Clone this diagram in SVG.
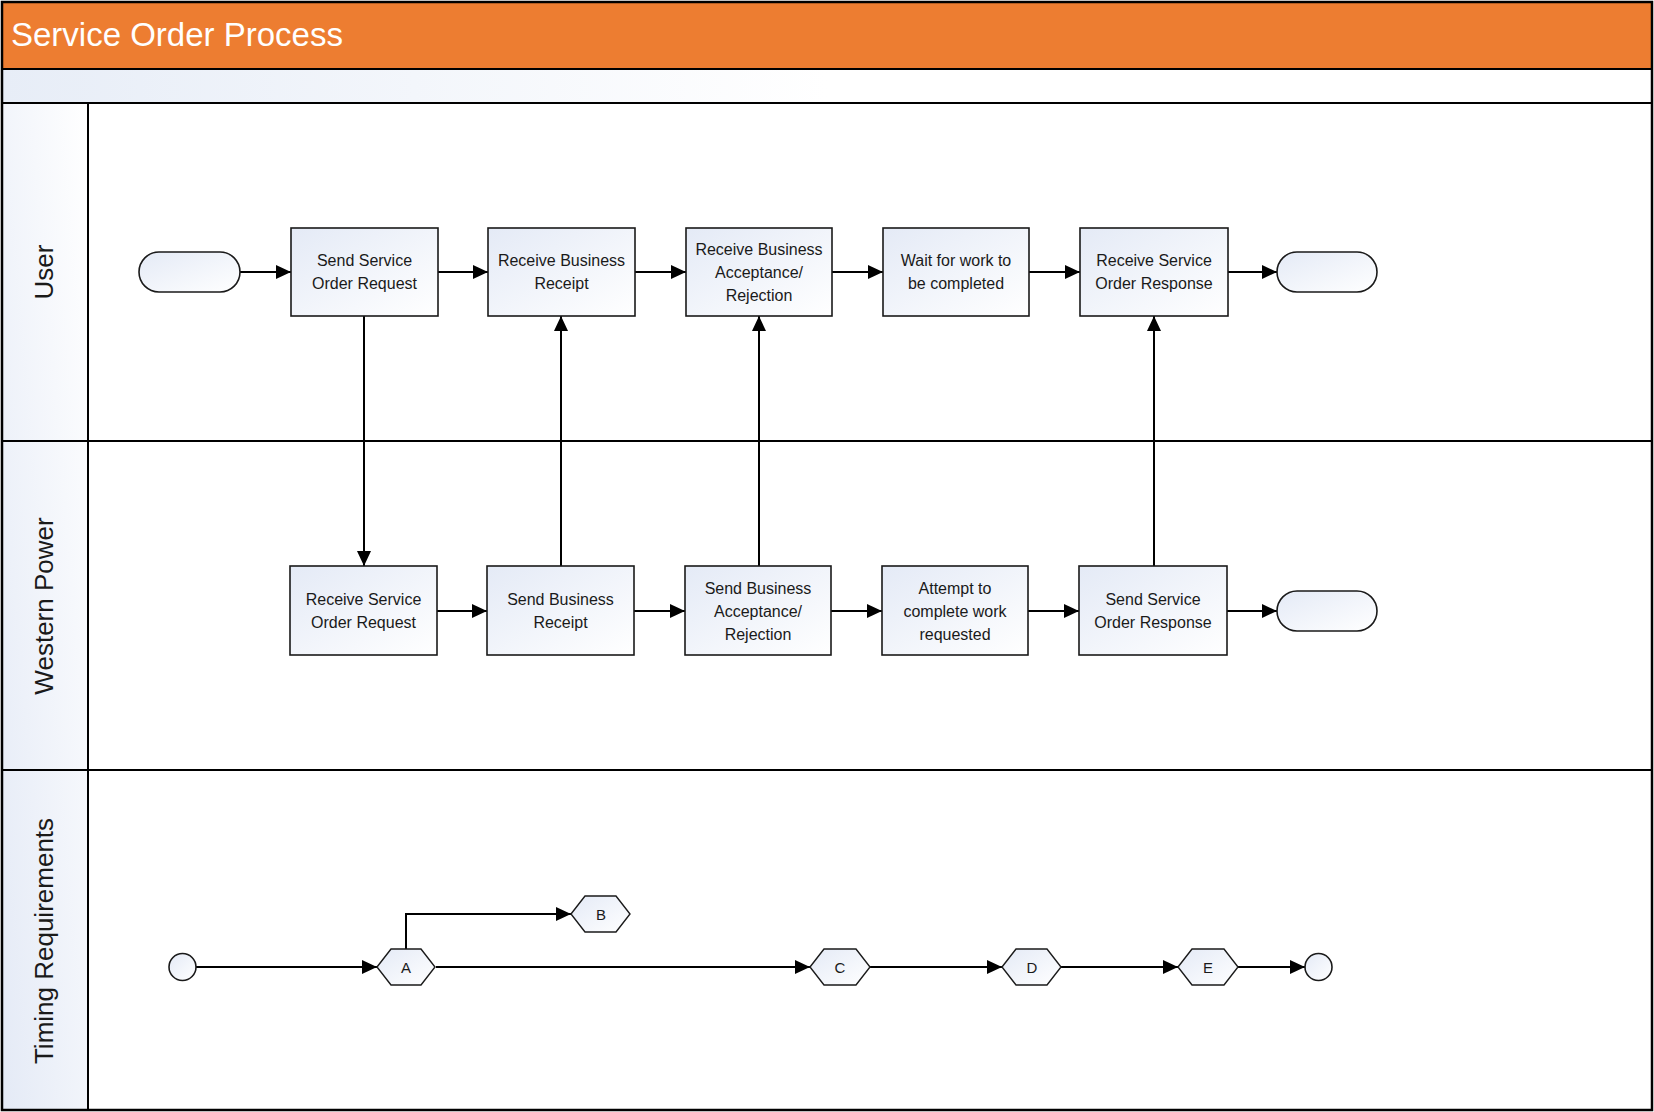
<svg xmlns="http://www.w3.org/2000/svg" width="1654" height="1112" viewBox="0 0 1654 1112">
<defs>
<linearGradient id="gBox" x1="0" y1="0" x2="1" y2="1">
<stop offset="0" stop-color="#e4eaf6"/>
<stop offset="1" stop-color="#ffffff"/>
</linearGradient>
<linearGradient id="gLane" x1="0" y1="1" x2="1" y2="0">
<stop offset="0" stop-color="#e4eaf6"/>
<stop offset="1" stop-color="#ffffff"/>
</linearGradient>
<linearGradient id="gBand" x1="0" y1="0" x2="1" y2="0">
<stop offset="0" stop-color="#e7edf7"/>
<stop offset="0.5" stop-color="#ffffff"/>
<stop offset="1" stop-color="#ffffff"/>
</linearGradient>
<marker id="arr" viewBox="0 0 15 14" refX="15" refY="7" markerWidth="15" markerHeight="14" markerUnits="userSpaceOnUse" orient="auto">
<path d="M0,0 L15,7 L0,14 Z" fill="#000"/>
</marker>
<style>
.box{fill:url(#gBox);stroke:#1a1a1a;stroke-width:1.6}
.term{fill:url(#gBox);stroke:#1a1a1a;stroke-width:1.6}
.hex{fill:url(#gBox);stroke:#1a1a1a;stroke-width:1.4}
.lbl{font-family:"Liberation Sans",Arial,sans-serif;font-size:16px;fill:#1a1a1a;text-anchor:middle}
.hl{font-family:"Liberation Sans",Arial,sans-serif;font-size:15px;fill:#1a1a1a;text-anchor:middle}
.lane{font-family:"Liberation Sans",Arial,sans-serif;font-size:26px;fill:#1a1a1a;text-anchor:middle}
.conn path{fill:none;stroke:#000;stroke-width:2;marker-end:url(#arr)}
.ln{stroke:#000;stroke-width:2;fill:none}
</style>
</defs>

<g id="pool">
<rect x="2" y="2" width="1650" height="1108" fill="#ffffff"/>
<rect x="2" y="2" width="1650" height="67" fill="#ED7D31"/>
<rect x="2" y="69" width="1650" height="34" fill="url(#gBand)"/>
<rect x="2" y="103" width="86" height="1007" fill="url(#gLane)"/>
<text x="11" y="46" font-family="Liberation Sans, Arial, sans-serif" font-size="33" fill="#ffffff">Service Order Process</text>
<line class="ln" x1="2" y1="69" x2="1652" y2="69"/>
<line class="ln" x1="2" y1="103" x2="1652" y2="103" stroke="#111"/>
<line class="ln" x1="2" y1="441" x2="1652" y2="441"/>
<line class="ln" x1="2" y1="770" x2="1652" y2="770"/>
<line class="ln" x1="88" y1="103" x2="88" y2="1110"/>
<rect x="2" y="2" width="1650" height="1108" fill="none" stroke="#000" stroke-width="2.5"/>
</g>

<g id="lane-user"><text class="lane" transform="translate(53,272) rotate(-90)">User</text></g>
<g id="lane-wp"><text class="lane" transform="translate(53,606) rotate(-90)">Western Power</text></g>
<g id="lane-timing"><text class="lane" transform="translate(53,941) rotate(-90)">Timing Requirements</text></g>

<g id="connectors" class="conn">
<path d="M240,272 H291"/>
<path d="M438,272 H488"/>
<path d="M635,272 H686"/>
<path d="M832,272 H883"/>
<path d="M1029,272 H1080"/>
<path d="M1228,272 H1277"/>
<path d="M437,611 H487"/>
<path d="M634,611 H685"/>
<path d="M831,611 H882"/>
<path d="M1028,611 H1079"/>
<path d="M1227,611 H1277"/>
<path d="M364,316 V566"/>
<path d="M561,566 V316"/>
<path d="M759,566 V316"/>
<path d="M1154,566 V316"/>
<path d="M196,967 H377"/>
<path d="M406,949 V914 H571"/>
<path d="M436,967 H810"/>
<path d="M870,967 H1002"/>
<path d="M1061,967 H1178"/>
<path d="M1238,967 H1305"/>
</g>

<g id="u-start"><rect class="term" x="139" y="252" width="101" height="40" rx="20"/></g>
<g id="u1"><rect class="box" x="291" y="228" width="147" height="88"/><text class="lbl" x="364.5" y="266">Send Service</text><text class="lbl" x="364.5" y="289">Order Request</text></g>
<g id="u2"><rect class="box" x="488" y="228" width="147" height="88"/><text class="lbl" x="561.5" y="266">Receive Business</text><text class="lbl" x="561.5" y="289">Receipt</text></g>
<g id="u3"><rect class="box" x="686" y="228" width="146" height="88"/><text class="lbl" x="759" y="255">Receive Business</text><text class="lbl" x="759" y="278">Acceptance/</text><text class="lbl" x="759" y="301">Rejection</text></g>
<g id="u4"><rect class="box" x="883" y="228" width="146" height="88"/><text class="lbl" x="956" y="266">Wait for work to</text><text class="lbl" x="956" y="289">be completed</text></g>
<g id="u5"><rect class="box" x="1080" y="228" width="148" height="88"/><text class="lbl" x="1154" y="266">Receive Service</text><text class="lbl" x="1154" y="289">Order Response</text></g>
<g id="u-end"><rect class="term" x="1277" y="252" width="100" height="40" rx="20"/></g>

<g id="w1"><rect class="box" x="290" y="566" width="147" height="89"/><text class="lbl" x="363.5" y="605">Receive Service</text><text class="lbl" x="363.5" y="628">Order Request</text></g>
<g id="w2"><rect class="box" x="487" y="566" width="147" height="89"/><text class="lbl" x="560.5" y="605">Send Business</text><text class="lbl" x="560.5" y="628">Receipt</text></g>
<g id="w3"><rect class="box" x="685" y="566" width="146" height="89"/><text class="lbl" x="758" y="594">Send Business</text><text class="lbl" x="758" y="617">Acceptance/</text><text class="lbl" x="758" y="640">Rejection</text></g>
<g id="w4"><rect class="box" x="882" y="566" width="146" height="89"/><text class="lbl" x="955" y="594">Attempt to</text><text class="lbl" x="955" y="617">complete work</text><text class="lbl" x="955" y="640">requested</text></g>
<g id="w5"><rect class="box" x="1079" y="566" width="148" height="89"/><text class="lbl" x="1153" y="605">Send Service</text><text class="lbl" x="1153" y="628">Order Response</text></g>
<g id="w-end"><rect class="term" x="1277" y="591" width="100" height="40" rx="20"/></g>

<g id="t-start"><circle class="term" cx="182.5" cy="967" r="13.5"/></g>
<g id="tA"><path class="hex" d="M377,967 L391,949 L421,949 L435,967 L421,985 L391,985 Z"/><text class="hl" x="406" y="972.5">A</text></g>
<g id="tB"><path class="hex" d="M571,914 L585,896 L616,896 L630,914 L616,932 L585,932 Z"/><text class="hl" x="601" y="919.5">B</text></g>
<g id="tC"><path class="hex" d="M810,967 L824,949 L856,949 L870,967 L856,985 L824,985 Z"/><text class="hl" x="840" y="972.5">C</text></g>
<g id="tD"><path class="hex" d="M1002,967 L1016,949 L1047,949 L1061,967 L1047,985 L1016,985 Z"/><text class="hl" x="1032" y="972.5">D</text></g>
<g id="tE"><path class="hex" d="M1178,967 L1192,949 L1224,949 L1238,967 L1224,985 L1192,985 Z"/><text class="hl" x="1208" y="972.5">E</text></g>
<g id="t-end"><circle class="term" cx="1318.5" cy="967" r="13.5"/></g>
</svg>
